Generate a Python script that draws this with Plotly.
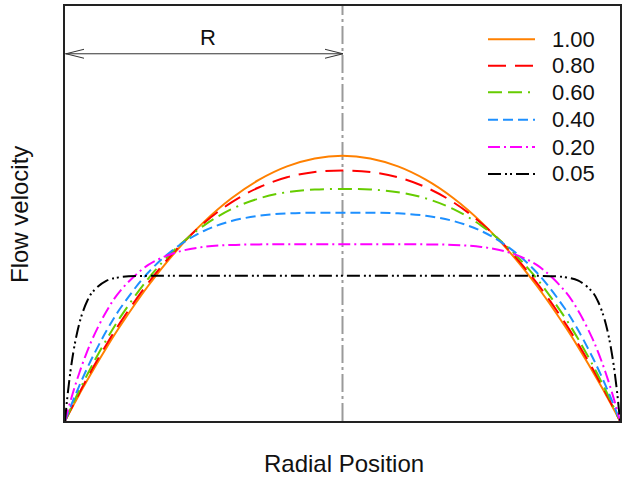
import plotly.graph_objects as go

# Radial position (half profile, r/R from centre to wall); mirrored for the full pipe
r_half = [0.0, 0.1, 0.2, 0.3, 0.4, 0.5, 0.6, 0.7, 0.8, 0.85, 0.9, 0.92, 0.94,
          0.95, 0.96, 0.97, 0.98, 0.99, 0.995, 1.0]

# Flow velocity values for each flow index
u_100 = [2.000, 1.980, 1.920, 1.820, 1.680, 1.500, 1.280, 1.020, 0.720, 0.555, 0.380, 0.307,
         0.233, 0.195, 0.157, 0.118, 0.079, 0.040, 0.020, 0.0]
u_080 = [1.889, 1.878, 1.838, 1.763, 1.649, 1.492, 1.291, 1.042, 0.746, 0.579, 0.399, 0.323,
         0.246, 0.206, 0.166, 0.125, 0.084, 0.042, 0.021, 0.0]
u_060 = [1.750, 1.746, 1.726, 1.679, 1.598, 1.474, 1.302, 1.074, 0.785, 0.616, 0.429, 0.349,
         0.266, 0.224, 0.181, 0.137, 0.092, 0.046, 0.023, 0.0]
u_040 = [1.571, 1.571, 1.566, 1.548, 1.508, 1.433, 1.308, 1.120, 0.852, 0.682, 0.485, 0.398,
         0.306, 0.258, 0.209, 0.159, 0.107, 0.054, 0.027, 0.0]
u_020 = [1.333, 1.333, 1.333, 1.332, 1.328, 1.313, 1.271, 1.177, 0.984, 0.830, 0.625, 0.525,
         0.414, 0.353, 0.290, 0.223, 0.152, 0.078, 0.040, 0.0]
u_005 = [1.095, 1.095, 1.095, 1.095, 1.095, 1.095, 1.095, 1.095, 1.085, 1.059, 0.975, 0.905,
         0.797, 0.722, 0.631, 0.518, 0.379, 0.208, 0.109, 0.0]

labels = ["1.00", "0.80", "0.60", "0.40", "0.20", "0.05"]
series = [u_100, u_080, u_060, u_040, u_020, u_005]
colors = ["#FF8000", "#FF0000", "#66CC00", "#1E90FF", "#FF00FF", "#000000"]
dashes = ["solid", "18px,9px", "14px,6px,14px,6px,2px,6px", "10px,5px",
          "12px,4px,2px,4px", "13px,4px,2px,3px,2px,4px"]

x_full = [-r for r in reversed(r_half)] + r_half[1:]

FONT = "Liberation Sans, Arial, sans-serif"
W, H = 626, 479
ML, MR, MT, MB = 65, 6, 4, 58


def px(x):
    return (x - ML) / (W - ML - MR)


def py(y):
    return (H - MB - y) / (H - MT - MB)


fig = go.Figure()
for lab, u, c, d in zip(labels, series, colors, dashes):
    y_full = list(reversed(u)) + u[1:]
    fig.add_trace(go.Scatter(
        x=x_full, y=y_full, mode="lines", name=lab, showlegend=False,
        line=dict(color=c, width=2, dash=d, shape="spline", smoothing=1.0),
    ))

shapes = [
    # centre line
    dict(type="line", xref="x", yref="paper", x0=0, x1=0, y0=0, y1=1, layer="below",
         line=dict(color="#9a9a9a", width=2, dash="18px,4px,3px,4px")),
    # R arrow
    dict(type="line", xref="paper", yref="paper", x0=px(65), x1=px(343), y0=py(52), y1=py(52),
         line=dict(color="#333333", width=1)),
    dict(type="path", xref="paper", yref="paper",
         path=f"M {px(84)},{py(47.5)} L {px(66)},{py(52)} L {px(84)},{py(56.5)}",
         line=dict(color="#333333", width=1)),
    dict(type="path", xref="paper", yref="paper",
         path=f"M {px(325)},{py(47.5)} L {px(343)},{py(52)} L {px(325)},{py(56.5)}",
         line=dict(color="#333333", width=1)),
]

annotations = [
    dict(text="R", xref="paper", yref="paper", x=px(208), y=py(36), showarrow=False,
         xanchor="center", yanchor="middle", font=dict(family=FONT, size=22, color="#111")),
    dict(text="Radial Position", xref="paper", yref="paper", x=px(343.5), y=py(464),
         showarrow=False, xanchor="center", yanchor="middle",
         font=dict(family=FONT, size=24, color="#111")),
    dict(text="Flow velocity", xref="paper", yref="paper", x=px(20), y=py(214), textangle=-90,
         showarrow=False, xanchor="center", yanchor="middle",
         font=dict(family=FONT, size=24, color="#111")),
]

leg_y = [37.3, 64, 90.7, 118.3, 145.7, 172.7]
for lab, c, d, yc in zip(labels, colors, dashes, leg_y):
    shapes.append(dict(type="line", xref="paper", yref="paper", x0=px(488), x1=px(535),
                       y0=py(yc), y1=py(yc), line=dict(color=c, width=2, dash=d)))
    annotations.append(dict(text=lab, xref="paper", yref="paper", x=px(550), y=py(yc),
                            showarrow=False, xanchor="left", yanchor="middle",
                            font=dict(family=FONT, size=22, color="#111")))

axis_common = dict(showline=True, mirror=True, linewidth=2, linecolor="#222222",
                   showticklabels=False, showgrid=False, zeroline=False, ticks="")

fig.update_layout(
    width=W, height=H,
    margin=dict(l=ML, r=MR, t=MT, b=MB, pad=0),
    paper_bgcolor="white", plot_bgcolor="white",
    xaxis=dict(range=[-1, 1], **axis_common),
    yaxis=dict(range=[0, 3.13], **axis_common),
    shapes=shapes, annotations=annotations,
    showlegend=False,
)

fig.write_html(
    "out.html",
    config={"displayModeBar": False},
    post_script="document.body.style.margin='0px';document.body.style.overflow='hidden';",
)
